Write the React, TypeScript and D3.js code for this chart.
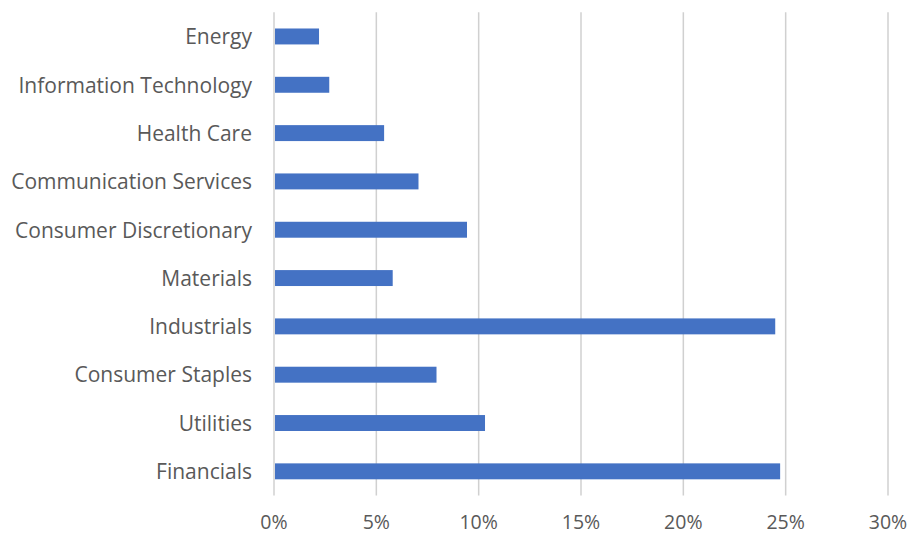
import React from "react";
import * as d3 from "d3";

const categories = [
  "Energy",
  "Information Technology",
  "Health Care",
  "Communication Services",
  "Consumer Discretionary",
  "Materials",
  "Industrials",
  "Consumer Staples",
  "Utilities",
  "Financials",
];
const values = [2.2, 2.7, 5.38, 7.06, 9.43, 5.8, 24.49, 7.94, 10.31, 24.73];
const xTicks = [0, 5, 10, 15, 20, 25, 30];

const W = 918;
const H = 536;
const M = { left: 274, right: 30, top: 12.3, bottom: 40.5 };
const FONT = "'Open Sans', 'Noto Sans', sans-serif";

export default function App() {
  const x = d3.scaleLinear().domain([0, 30]).range([M.left, W - M.right]);
  const y = d3
    .scaleBand<string>()
    .domain(categories)
    .range([M.top, H - M.bottom])
    .paddingInner(0.67)
    .paddingOuter(0.335);
  const bw = y.bandwidth();
  return (
    <svg
      width={W}
      height={H}
      style={{ position: "absolute", left: 0, top: 0, background: "#fff" }}
      fontFamily={FONT}
    >
      <rect width={W} height={H} fill="#fff" />
      {xTicks.map((t) => (
        <line
          key={"g" + t}
          x1={x(t)}
          x2={x(t)}
          y1={M.top}
          y2={H - M.bottom}
          stroke="#d0d0d0"
          strokeWidth={1.5}
        />
      ))}
      {categories.map((c, i) => (
        <rect
          key={c}
          x={x(0) + 1}
          y={y(c)!}
          width={x(values[i]) - x(0) - 1}
          height={bw}
          fill="#4472C4"
        />
      ))}
      {categories.map((c) => (
        <text
          key={"l" + c}
          x={x(0) - 22}
          y={y(c)! + bw / 2}
          dy="0.37em"
          textAnchor="end"
          fontSize={21}
          fill="#595959"
        >
          {c}
        </text>
      ))}
      {xTicks.map((t) => (
        <text
          key={"t" + t}
          x={x(t)}
          y={529}
          textAnchor="middle"
          fontSize={19.5}
          fill="#595959"
        >
          {t + "%"}
        </text>
      ))}
    </svg>
  );
}
